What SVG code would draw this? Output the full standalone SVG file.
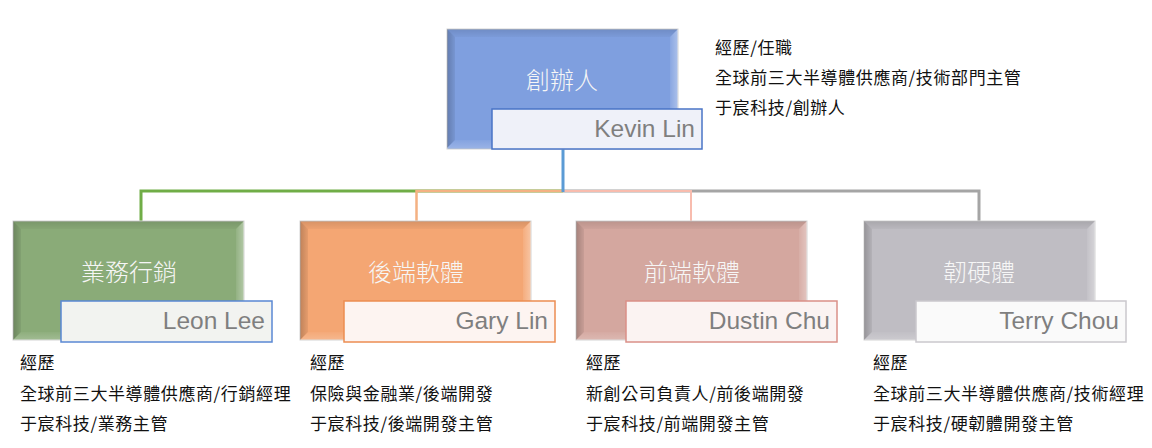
<svg xmlns="http://www.w3.org/2000/svg" xmlns:xlink="http://www.w3.org/1999/xlink" width="1152" height="448" viewBox="0 0 1152 448">
<style>
.box{stroke:#d4d4d4;stroke-width:1}
.title{font-family:"Noto Sans CJK TC","Noto Sans CJK SC",sans-serif;font-size:24px;font-weight:300;fill:#f6f6f6;text-anchor:middle}
.name{font-family:"Liberation Sans",Arial,sans-serif;font-size:24.5px;fill:#7f7f7f;text-anchor:end}
.desc{font-family:"Noto Sans CJK TC","Noto Sans CJK SC",sans-serif;font-size:17px;fill:#111;letter-spacing:0.6px}
.conn{fill:none;stroke-linejoin:miter}
</style>
<defs>
<linearGradient id="gL" x1="0" y1="0" x2="1" y2="0"><stop offset="0" stop-color="#000" stop-opacity="0.22"/><stop offset="1" stop-color="#000" stop-opacity="0.06"/></linearGradient>
<linearGradient id="gT" x1="0" y1="0" x2="0" y2="1"><stop offset="0" stop-color="#000" stop-opacity="0.12"/><stop offset="1" stop-color="#000" stop-opacity="0.03"/></linearGradient>
<linearGradient id="gR" x1="1" y1="0" x2="0" y2="0"><stop offset="0" stop-color="#fff" stop-opacity="0.35"/><stop offset="1" stop-color="#fff" stop-opacity="0.08"/></linearGradient>
<linearGradient id="gB" x1="0" y1="1" x2="0" y2="0"><stop offset="0" stop-color="#fff" stop-opacity="0.2"/><stop offset="1" stop-color="#fff" stop-opacity="0.04"/></linearGradient>
<g id="bevel">
<polygon points="0,0 8,8 8,111 0,119" fill="url(#gL)"/>
<polygon points="0,0 231,0 223,8 8,8" fill="url(#gT)"/>
<polygon points="231,0 231,119 223,111 223,8" fill="url(#gR)"/>
<polygon points="0,119 8,111 223,111 231,119" fill="url(#gB)"/>
</g>
</defs>
<rect width="1152" height="448" fill="#fff"/>
<g id="connectors">
<polyline class="conn" points="563,191 141,191 141,221" stroke="#70ad47" stroke-width="3"/>
<polyline class="conn" points="563,191 979,191 979,221" stroke="#a5a5a5" stroke-width="3"/>
<polyline class="conn" points="563,191 416.5,191 416.5,221" stroke="#f4b183" stroke-width="2.5"/>
<polyline class="conn" points="563,191 691,191 691,221" stroke="#f8bcae" stroke-width="2"/>
<line class="conn" x1="563" y1="149" x2="563" y2="192" stroke="#5b9bd5" stroke-width="3"/>
</g>
<g id="node-founder">
<rect class="box" x="447" y="29" width="231" height="120" fill="#7f9fdf"/>
<use xlink:href="#bevel" x="447" y="29"/>
<text class="title" x="562" y="89">創辦人</text>
<rect x="492" y="109" width="210" height="40" fill="#eff1f9" stroke="#4a74c6" stroke-width="1.5"/>
<text class="name" x="695" y="137">Kevin Lin</text>
<text class="desc" x="715" y="54">經歷/任職</text>
<text class="desc" x="715" y="84">全球前三大半導體供應商/技術部門主管</text>
<text class="desc" x="715" y="114">于宸科技/創辦人</text>
</g>
<g id="node-sales">
<rect class="box" x="13" y="221" width="231" height="119" fill="#8aab78"/>
<use xlink:href="#bevel" x="13" y="221"/>
<text class="title" x="129" y="281">業務行銷</text>
<rect x="61" y="301" width="211" height="41" fill="#f2f3f0" stroke="#5a88d4" stroke-width="1.5"/>
<text class="name" x="265" y="329">Leon Lee</text>
<text class="desc" x="20" y="369">經歷</text>
<text class="desc" x="20" y="400">全球前三大半導體供應商/行銷經理</text>
<text class="desc" x="20" y="430">于宸科技/業務主管</text>
</g>
<g id="node-backend">
<rect class="box" x="300" y="221" width="231" height="119" fill="#f4a673"/>
<use xlink:href="#bevel" x="300" y="221"/>
<text class="title" x="416" y="281">後端軟體</text>
<rect x="344" y="301" width="211" height="41" fill="#fdf4f1" stroke="#ec8d52" stroke-width="1.5"/>
<text class="name" x="548" y="329">Gary Lin</text>
<text class="desc" x="310" y="369">經歷</text>
<text class="desc" x="310" y="400">保險與金融業/後端開發</text>
<text class="desc" x="310" y="430">于宸科技/後端開發主管</text>
</g>
<g id="node-frontend">
<rect class="box" x="576" y="221" width="231" height="119" fill="#d4a79f"/>
<use xlink:href="#bevel" x="576" y="221"/>
<text class="title" x="692" y="281">前端軟體</text>
<rect x="626" y="301" width="211" height="41" fill="#fbf3f2" stroke="#da9088" stroke-width="1.5"/>
<text class="name" x="830" y="329">Dustin Chu</text>
<text class="desc" x="586" y="369">經歷</text>
<text class="desc" x="586" y="400">新創公司負責人/前後端開發</text>
<text class="desc" x="586" y="430">于宸科技/前端開發主管</text>
</g>
<g id="node-firmware">
<rect class="box" x="864" y="221" width="231" height="119" fill="#bfbdc3"/>
<use xlink:href="#bevel" x="864" y="221"/>
<text class="title" x="979" y="281">韌硬體</text>
<rect x="916" y="301" width="210" height="41" fill="#fafafa" stroke="#cac8cd" stroke-width="1.5"/>
<text class="name" x="1119" y="329">Terry Chou</text>
<text class="desc" x="873" y="369">經歷</text>
<text class="desc" x="873" y="400">全球前三大半導體供應商/技術經理</text>
<text class="desc" x="873" y="430">于宸科技/硬韌體開發主管</text>
</g>
</svg>
